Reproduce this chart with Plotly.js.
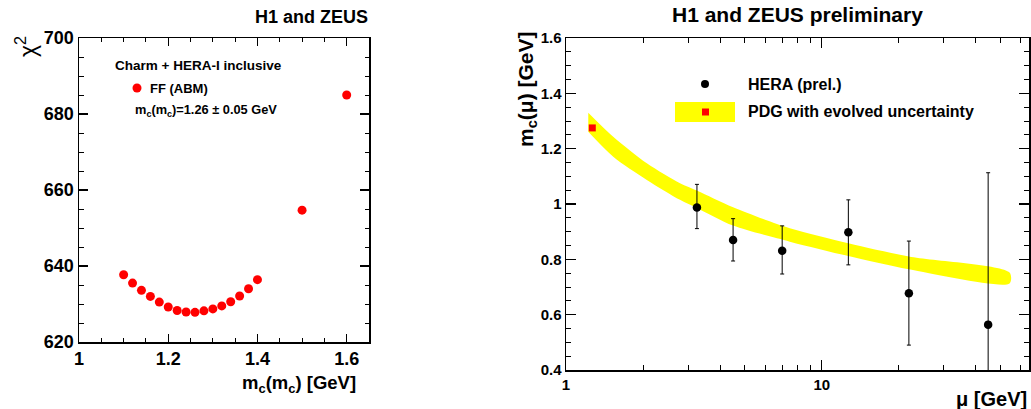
<!DOCTYPE html>
<html>
<head>
<meta charset="utf-8">
<script src="https://cdn.plot.ly/plotly-3.0.1.min.js"></script>
<style>html,body{margin:0;padding:0;background:#fff;}#chart{width:1031px;height:409px;}</style>
</head>
<body>
<div id="chart"></div>
<script>
// ---- Left panel: chi2 scan vs mc(mc) ----
const mcValues = [1.10, 1.12, 1.14, 1.16, 1.18, 1.20, 1.22, 1.24, 1.26, 1.28, 1.30, 1.32, 1.34, 1.36, 1.38, 1.40, 1.50, 1.60];
const chi2Values = [637.7, 635.5, 633.6, 632.0, 630.5, 629.2, 628.3, 627.9, 627.8, 628.2, 628.7, 629.5, 630.6, 632.1, 634.0, 636.4, 654.7, 685.0];
const leftXTicks = [1, 1.2, 1.4, 1.6];
const leftXLabels = ['1', '1.2', '1.4', '1.6'];
const leftYTicks = [620, 640, 660, 680, 700];
const leftYLabels = ['620', '640', '660', '680', '700'];

// ---- Right panel: running charm mass ----
const heraMu = [3.25, 4.5, 7.0, 12.7, 21.9, 44.7];
const heraMass = [0.987, 0.870, 0.831, 0.898, 0.677, 0.564];
const heraErrUp = [0.084, 0.077, 0.090, 0.117, 0.189, 0.549];
const heraErrDown = [0.076, 0.076, 0.084, 0.118, 0.187, 0.564];
const pdgMu = [1.267];
const pdgMass = [1.275];
const bandMu = [1.222, 1.53, 2.07, 2.79, 3.26, 4.5, 7.5, 12.7, 21.9, 54.2];
const bandUpper = [1.330, 1.243, 1.147, 1.075, 1.048, 0.988, 0.912, 0.858, 0.810, 0.752];
const bandLower = [1.261, 1.171, 1.087, 1.015, 0.985, 0.922, 0.864, 0.812, 0.764, 0.713];
const rightXTicks = [1, 10];
const rightXLabels = ['1', '10'];
const rightXMinor = [2, 3, 4, 5, 6, 7, 8, 9, 20, 30, 40, 50, 60];
const rightYTicks = [0.4, 0.6, 0.8, 1.0, 1.2, 1.4, 1.6];
const rightYLabels = ['0.4', '0.6', '0.8', '1', '1.2', '1.4', '1.6'];

const FONT = "Liberation Sans, Arial, Helvetica, sans-serif";
const W = 1031, H = 409;
const px = v => v / W;
const py = v => 1 - v / H;
const b = s => '<b>' + s + '</b>';

const traces = [
  {
    x: mcValues, y: chi2Values, xaxis: 'x', yaxis: 'y', type: 'scatter', mode: 'markers',
    marker: {color: '#ff0000', size: 9, symbol: 'circle'}, cliponaxis: false, hoverinfo: 'skip'
  },
  {
    x: bandMu.concat(bandMu.slice().reverse()),
    y: bandUpper.concat(bandLower.slice().reverse()),
    xaxis: 'x2', yaxis: 'y2', type: 'scatter', mode: 'lines', fill: 'toself',
    fillcolor: '#ffff00', line: {width: 0, color: '#ffff00', shape: 'spline', smoothing: 0.8}, hoverinfo: 'skip'
  },
  {
    x: pdgMu, y: pdgMass, xaxis: 'x2', yaxis: 'y2', type: 'scatter', mode: 'markers',
    marker: {color: '#ff0000', size: 7, symbol: 'square'}, hoverinfo: 'skip'
  },
  {
    x: heraMu, y: heraMass, xaxis: 'x2', yaxis: 'y2', type: 'scatter', mode: 'markers',
    marker: {color: '#000000', size: 8.5, symbol: 'circle'},
    error_y: {type: 'data', symmetric: false, array: heraErrUp, arrayminus: heraErrDown,
              color: '#000000', thickness: 1, width: 2},
    hoverinfo: 'skip'
  }
];

const axisCommon = {
  showgrid: false, zeroline: false, showline: true, linecolor: '#000', linewidth: 1.5,
  mirror: 'ticks', ticks: 'inside', tickcolor: '#000', tickwidth: 1.2, automargin: false,
  fixedrange: true
};

const layout = {
  width: W, height: H,
  margin: {l: 0, r: 0, t: 0, b: 0},
  paper_bgcolor: '#fff', plot_bgcolor: '#fff',
  showlegend: false,
  font: {family: FONT, color: '#000'},
  xaxis: Object.assign({}, axisCommon, {
    domain: [px(79), px(369)], anchor: 'y', range: [1, 1.65],
    tickvals: leftXTicks, ticktext: leftXLabels.map(b),
    ticklen: 8, tickfont: {family: FONT, size: 18},
    minor: {dtick: 0.05, tick0: 1, ticklen: 4, ticks: 'inside', tickcolor: '#000', tickwidth: 1}
  }),
  yaxis: Object.assign({}, axisCommon, {
    domain: [py(342), py(38)], anchor: 'x', range: [620, 700],
    tickvals: leftYTicks, ticktext: leftYLabels.map(b), ticklen: 9, tickfont: {family: FONT, size: 18},
    minor: {dtick: 5, tick0: 620, ticklen: 4.5, ticks: 'inside', tickcolor: '#000', tickwidth: 1}
  }),
  xaxis2: Object.assign({}, axisCommon, {
    domain: [px(566), px(1029)], anchor: 'y2', type: 'log', range: [0, 1.81],
    tickvals: rightXTicks, ticktext: rightXLabels.map(b), ticklen: 10,
    tickfont: {family: FONT, size: 15},
    minor: {tickvals: rightXMinor, ticklen: 5, ticks: 'inside', tickcolor: '#000', tickwidth: 1}
  }),
  yaxis2: Object.assign({}, axisCommon, {
    domain: [py(370), py(38)], anchor: 'x2', range: [0.4, 1.6],
    tickvals: rightYTicks, ticktext: rightYLabels.map(b), ticklen: 10,
    tickfont: {family: FONT, size: 15},
    minor: {dtick: 0.05, tick0: 0.4, ticklen: 5, ticks: 'inside', tickcolor: '#000', tickwidth: 1}
  }),
  shapes: [
    {type: 'circle', xref: 'paper', yref: 'paper', x0: px(132.5), x1: px(141.5), y0: py(92.5), y1: py(83.5),
     fillcolor: '#ff0000', line: {width: 0}},
    {type: 'circle', xref: 'paper', yref: 'paper', x0: px(701), x1: px(709), y0: py(88), y1: py(80),
     fillcolor: '#000', line: {width: 0}},
    {type: 'rect', xref: 'paper', yref: 'paper', x0: px(675), x1: px(735), y0: py(122), y1: py(102),
     fillcolor: '#ffff00', line: {width: 0}},
    {type: 'rect', xref: 'paper', yref: 'paper', x0: px(702), x1: px(709), y0: py(115.5), y1: py(108.5),
     fillcolor: '#ff0000', line: {width: 0}}
  ],
  annotations: [
    {text: b('H1 and ZEUS'), xref: 'paper', yref: 'paper', x: px(370), y: py(17), xanchor: 'right', yanchor: 'middle',
     showarrow: false, font: {family: FONT, size: 18}},
    {text: 'χ<sup>2</sup>', xref: 'paper', yref: 'paper', x: px(26), y: py(47), xanchor: 'center', yanchor: 'middle',
     textangle: -90, showarrow: false, font: {family: FONT, size: 23}},
    {text: b('m<sub>c</sub>(m<sub>c</sub>) [GeV]'), xref: 'paper', yref: 'paper', x: px(358), y: py(384), xanchor: 'right', yanchor: 'middle',
     showarrow: false, font: {family: FONT, size: 18.5}},
    {text: b('Charm + HERA-I inclusive'), xref: 'paper', yref: 'paper', x: px(113), y: py(66), xanchor: 'left', yanchor: 'middle',
     showarrow: false, font: {family: FONT, size: 13.5}},
    {text: b('FF (ABM)'), xref: 'paper', yref: 'paper', x: px(148), y: py(88), xanchor: 'left', yanchor: 'middle',
     showarrow: false, font: {family: FONT, size: 13}},
    {text: b('m<sub>c</sub>(m<sub>c</sub>)=1.26 ± 0.05 GeV'), xref: 'paper', yref: 'paper', x: px(133), y: py(110), xanchor: 'left', yanchor: 'middle',
     showarrow: false, font: {family: FONT, size: 12.8}},
    {text: b('H1 and ZEUS preliminary'), xref: 'paper', yref: 'paper', x: px(797), y: py(14), xanchor: 'center', yanchor: 'middle',
     showarrow: false, font: {family: FONT, size: 21}},
    {text: b('m<sub>c</sub>(μ) [GeV]'), xref: 'paper', yref: 'paper', x: px(527), y: py(89), xanchor: 'center', yanchor: 'middle',
     textangle: -90, showarrow: false, font: {family: FONT, size: 21}},
    {text: b('μ [GeV]'), xref: 'paper', yref: 'paper', x: px(1029), y: py(399), xanchor: 'right', yanchor: 'middle',
     showarrow: false, font: {family: FONT, size: 20}},
    {text: b('HERA (prel.)'), xref: 'paper', yref: 'paper', x: px(746), y: py(84), xanchor: 'left', yanchor: 'middle',
     showarrow: false, font: {family: FONT, size: 16}},
    {text: b('PDG with evolved uncertainty'), xref: 'paper', yref: 'paper', x: px(746), y: py(112), xanchor: 'left', yanchor: 'middle',
     showarrow: false, font: {family: FONT, size: 16}}
  ]
};

Plotly.newPlot('chart', traces, layout, {staticPlot: true, displayModeBar: false});
</script>
</body>
</html>
